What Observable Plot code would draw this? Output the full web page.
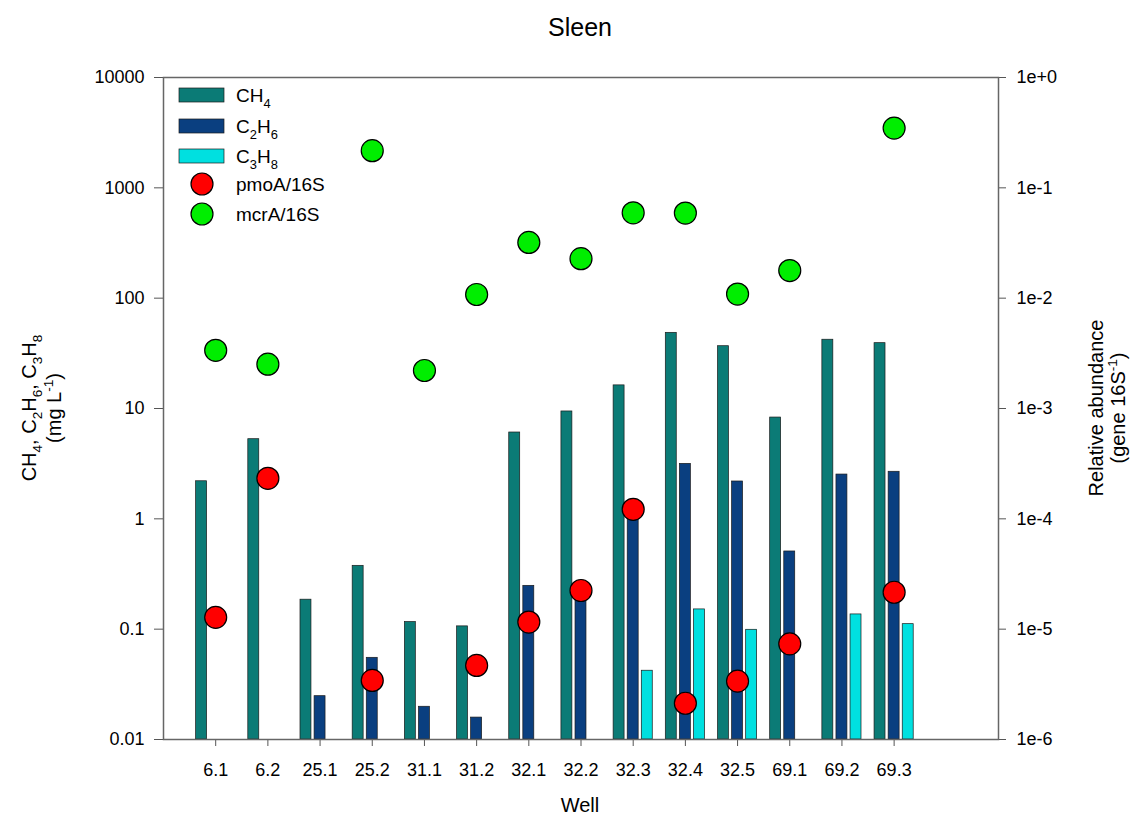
<!DOCTYPE html>
<html><head><meta charset="utf-8">
<script src="https://cdn.jsdelivr.net/npm/d3@7"></script>
<script src="https://cdn.jsdelivr.net/npm/@observablehq/plot@0.6"></script>
<style>body{margin:0;background:#fff;font-family:"Liberation Sans",Arial,sans-serif}</style>
</head><body><div id="chart"></div><script>
const wells = ["6.1","6.2","25.1","25.2","31.1","31.2","32.1","32.2","32.3","32.4","32.5","69.1","69.2","69.3"];
const ch4  = [2.19, 5.27, 0.185, 0.375, 0.116, 0.106, 6.06, 9.4, 16.2, 48.5, 36.7, 8.28, 42, 39.1];
const c2h6 = [null, null, 0.0247, 0.055, 0.0198, 0.0158, 0.247, 0.2, 1.15, 3.15, 2.18, 0.506, 2.52, 2.67];
const c3h8 = [null, null, null, null, null, null, null, null, 0.042, 0.151, 0.0987, null, 0.136, 0.111];
const pmoA = [1.28e-5, 2.33e-4, null, 3.43e-6, null, 4.69e-6, 1.16e-5, 2.24e-5, 1.22e-4, 2.13e-6, 3.38e-6, 7.36e-6, null, 2.16e-5];
const mcrA = [3.37e-3, 2.52e-3, null, 0.217, 2.21e-3, 1.08e-2, 3.2e-2, 2.28e-2, 5.94e-2, 5.91e-2, 1.09e-2, 1.78e-2, null, 0.348];
const leftTicks = [0.01, 0.1, 1, 10, 100, 1000, 10000];
const leftTickLabels = ["0.01", "0.1", "1", "10", "100", "1000", "10000"];
const rightTickLabels = ["1e-6", "1e-5", "1e-4", "1e-3", "1e-2", "1e-1", "1e+0"];
const gases = ["CH4", "C2H6", "C3H8"];
const gasColors = ["#0b7b76", "#0a3f80", "#00e0e0"];
const rightToLeft = 1e4; // right axis 1e-6..1e0 maps onto left 0.01..10000

const gasSeries = [ch4, c2h6, c3h8];
const offsets = [-0.27, 0, 0.27];
const halfW = 0.105;
const barRows = [];
gasSeries.forEach((s, g) => s.forEach((v, i) => {
  if (v != null) barRows.push({pos: i + 1 + offsets[g], value: v, gas: gases[g]});
}));
const pmoRows = pmoA.map((v, i) => ({pos: i + 1, v})).filter(d => d.v != null);
const mcrRows = mcrA.map((v, i) => ({pos: i + 1, v})).filter(d => d.v != null);

const W = 1130, H = 821;
const chart = Plot.plot({
  width: W, height: H,
  marginLeft: 163, marginRight: 132, marginTop: 77, marginBottom: 82,
  style: {fontFamily: '"Liberation Sans", Arial, sans-serif', color: "#000", background: "#fff"},
  x: {type: "linear", domain: [0, 16]},
  y: {type: "log", domain: [0.01, 10000]},
  color: {domain: gases, range: gasColors},
  marks: [
    Plot.rectY(barRows, {x1: d => d.pos - halfW, x2: d => d.pos + halfW, y1: 0.01, y2: "value",
      fill: "gas", stroke: "#1a1a1a", strokeWidth: 0.7}),
    Plot.dot(pmoRows, {x: "pos", y: d => d.v * rightToLeft, r: 11, fill: "#ff0000", stroke: "#000", strokeWidth: 1.2}),
    Plot.dot(mcrRows, {x: "pos", y: d => d.v * rightToLeft, r: 11, fill: "#00ee00", stroke: "#000", strokeWidth: 1.2}),
    Plot.axisX({ticks: d3.range(1, 15), tickFormat: d => wells[d - 1], tickSize: 7, tickPadding: 17,
      fontSize: 18, label: null, stroke: "#555"}),
    Plot.axisY({anchor: "left", ticks: leftTicks, tickFormat: d => leftTickLabels[leftTicks.indexOf(d)],
      tickSize: 9, tickPadding: 10, fontSize: 18, label: null, stroke: "#555"}),
    Plot.axisY({anchor: "right", ticks: leftTicks, tickFormat: d => rightTickLabels[leftTicks.indexOf(d)],
      tickSize: 7, tickPadding: 11, fontSize: 18, label: null, stroke: "#555"}),
    Plot.frame({stroke: "#666", strokeWidth: 1.5})
  ]
});
document.getElementById("chart").appendChild(chart);

const svg = d3.select(chart);
const FF = '"Liberation Sans", Arial, sans-serif';
function rich(g, segs, attrs, size) {
  const t = g.append("text").attr("font-family", FF).attr("font-size", size).attr("fill", "#000")
    .attr("text-anchor", "start");
  Object.entries(attrs).forEach(([k, v]) => t.attr(k, v));
  let shift = 0;
  segs.forEach(([s, kind]) => {
    const target = kind === 1 ? size * 0.3 : kind === 2 ? -size * 0.4 : 0;
    const ts = t.append("tspan").text(s).attr("dy", target - shift);
    if (kind) ts.attr("font-size", size * 0.68);
    shift = target;
  });
  return t;
}
// title
svg.append("text").attr("x", 580).attr("y", 36).attr("text-anchor", "middle")
  .attr("font-family", FF).attr("font-size", 25).text("Sleen");
// x label
svg.append("text").attr("x", 580).attr("y", 812).attr("text-anchor", "middle")
  .attr("font-family", FF).attr("font-size", 20).text("Well");
// left y label
const gl = svg.append("g").attr("transform", "translate(0,408) rotate(-90)");
rich(gl, [["CH",0],["4",1],[", C",0],["2",1],["H",0],["6",1],[", C",0],["3",1],["H",0],["8",1]],
  {x: 0, y: 36, "text-anchor": "middle"}, 20);
rich(gl, [["(mg L",0],["-1",2],[")",0]], {x: 0, y: 61, "text-anchor": "middle"}, 20);
// right y label
const gr = svg.append("g").attr("transform", "translate(0,408) rotate(-90)");
rich(gr, [["Relative abundance",0]], {x: 0, y: 1103, "text-anchor": "middle"}, 20);
rich(gr, [["(gene 16S",0],["-1",2],[")",0]], {x: 0, y: 1125, "text-anchor": "middle"}, 20);
// legend
const lg = svg.append("g");
const legendItems = [
  {type: "rect", fill: gasColors[0], y: 95, segs: [["CH",0],["4",1]]},
  {type: "rect", fill: gasColors[1], y: 126, segs: [["C",0],["2",1],["H",0],["6",1]]},
  {type: "rect", fill: gasColors[2], y: 156, segs: [["C",0],["3",1],["H",0],["8",1]]},
  {type: "dot", fill: "#ff0000", y: 184, segs: [["pmoA/16S",0]]},
  {type: "dot", fill: "#00ee00", y: 214, segs: [["mcrA/16S",0]]}
];
legendItems.forEach(it => {
  if (it.type === "rect") {
    lg.append("rect").attr("x", 179).attr("y", it.y - 7).attr("width", 45).attr("height", 14)
      .attr("fill", it.fill).attr("stroke", "#1a1a1a").attr("stroke-width", 0.7);
  } else {
    lg.append("circle").attr("cx", 202).attr("cy", it.y).attr("r", 11)
      .attr("fill", it.fill).attr("stroke", "#000").attr("stroke-width", 1.2);
  }
  rich(lg, it.segs, {x: 236, y: it.y + 7}, 19);
});
</script></body></html>
